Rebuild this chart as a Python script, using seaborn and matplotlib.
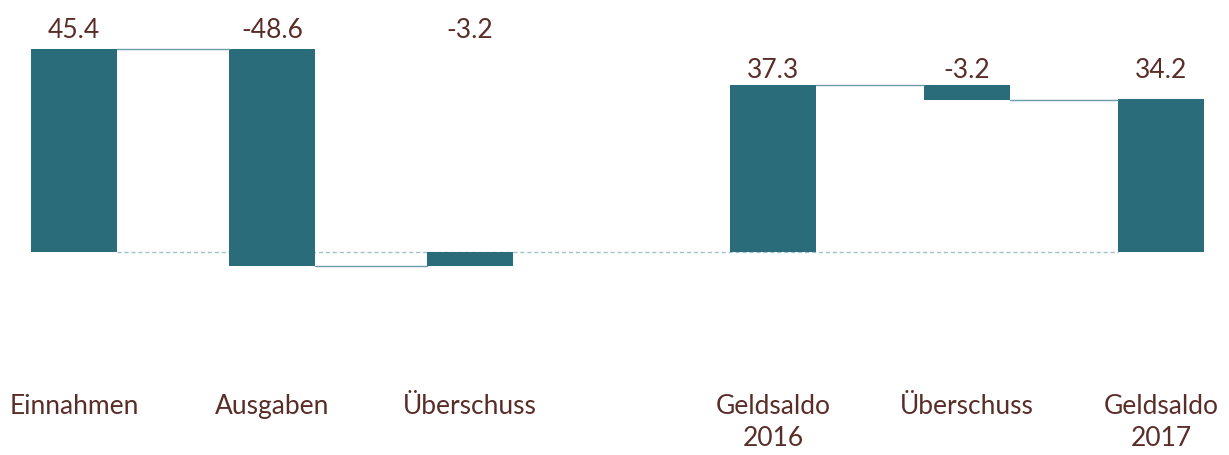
import matplotlib
matplotlib.use('Agg')
import matplotlib.pyplot as plt
import numpy as np
import pandas as pd
import seaborn as sns

categories = ['Einnahmen', 'Ausgaben', 'Überschuss', 'Geldsaldo\n2016', 'Überschuss', 'Geldsaldo\n2017']
values = [45.4, -48.6, -3.2, 37.3, -3.2, 34.2]
kinds = ['delta', 'delta', 'total', 'total', 'delta', 'total']
labels = ['45.4', '-48.6', '-3.2', '37.3', '-3.2', '34.2']

bar_color = '#2b6c7b'
text_color = '#5a2e28'
line_color = '#6b9ba7'
zero_color = '#a3c3cb'

sns.set_style('white')
plt.rcParams['font.family'] = ['Lato', 'DejaVu Sans']

# start/end of each floating bar
starts, ends = [], []
level = 0.0
for v, k in zip(values, kinds):
    if k == 'total':
        s, e = 0.0, v
    else:
        s, e = level, level + v
    starts.append(s)
    ends.append(e)
    level = e

pos = np.array([0, 1, 2, 3.53, 4.51, 5.49])
heights = np.array(ends) - np.array(starts)
df = pd.DataFrame({'pos': pos, 'height': heights})

fig = plt.figure(figsize=(12.29, 4.55), dpi=100)
ax = fig.add_axes([0, 1 - 390 / 455, 1, 390 / 455])

sns.barplot(data=df, x='pos', y='height', native_scale=True, width=0.445,
            color=bar_color, saturation=1, errorbar=None, linewidth=0, ax=ax)

bars = sorted(ax.patches, key=lambda p: p.get_x())
for p, s in zip(bars, starts):
    p.set_y(s)

# connectors between neighbouring bars
for i in range(len(bars) - 1):
    if i == 2:
        continue
    x0 = bars[i].get_x() + bars[i].get_width()
    x1 = bars[i + 1].get_x()
    y = ends[i]
    ax.plot([x0, x1], [y, y], color=line_color, lw=1.0, zorder=1)

# zero line
ax.plot([bars[0].get_x() + bars[0].get_width(), bars[-1].get_x()], [0, 0],
        color=zero_color, lw=1.0, ls=(0, (3, 2)), zorder=0)

# value labels above each group
groups = [[0, 1, 2], [3, 4, 5]]
for g in groups:
    top = max(max(starts[i], ends[i]) for i in g)
    for i in g:
        ax.text(pos[i], top * 1.09, labels[i], ha='center', va='center',
                fontsize=19, color=text_color)

ax.set_xticks(pos)
ax.set_xticklabels(categories, fontsize=19, color=text_color, linespacing=1.35)
ax.tick_params(axis='x', length=0, pad=3)
ax.set_yticks([])
ax.set_xlabel('')
ax.set_ylabel('')
ax.set_xlim(-74 / 198, (1229 - 74) / 198)
ax.set_ylim(-(390 - 252) / 4.47, 252 / 4.47)
sns.despine(ax=ax, left=True, bottom=True)

fig.savefig('out.png', dpi=100)
